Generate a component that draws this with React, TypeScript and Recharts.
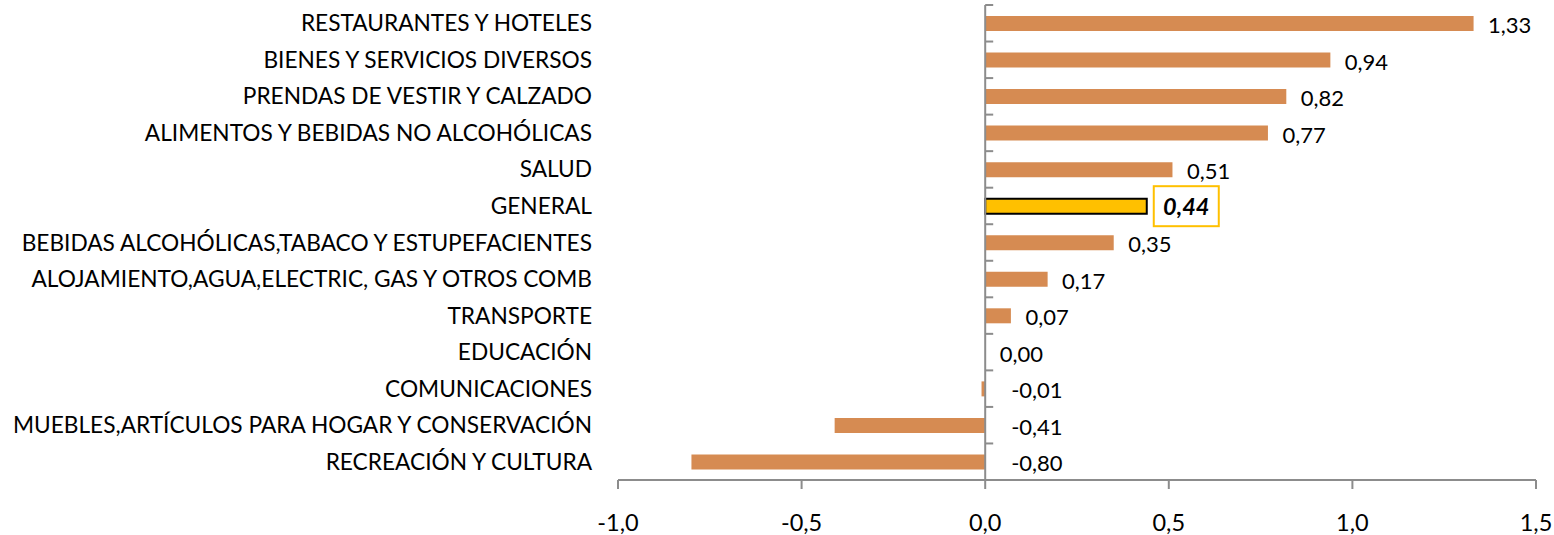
import { Bar, BarChart, Cell, LabelList, ReferenceLine, XAxis, YAxis } from "recharts";

const CATEGORIES = [
  "RESTAURANTES Y HOTELES",
  "BIENES Y SERVICIOS DIVERSOS",
  "PRENDAS DE VESTIR Y CALZADO",
  "ALIMENTOS Y BEBIDAS NO ALCOHÓLICAS",
  "SALUD",
  "GENERAL",
  "BEBIDAS ALCOHÓLICAS,TABACO Y ESTUPEFACIENTES",
  "ALOJAMIENTO,AGUA,ELECTRIC, GAS Y OTROS COMB",
  "TRANSPORTE",
  "EDUCACIÓN",
  "COMUNICACIONES",
  "MUEBLES,ARTÍCULOS PARA HOGAR Y CONSERVACIÓN",
  "RECREACIÓN Y CULTURA",
];
const VALUES = [1.33, 0.94, 0.82, 0.77, 0.51, 0.44, 0.35, 0.17, 0.07, 0.0, -0.01, -0.41, -0.8];
const X_TICKS = [-1, -0.5, 0, 0.5, 1, 1.5];
const HIGHLIGHT = "GENERAL";

const BAR = "#D68B52";
const GOLD = "#FFC000";
const AXIS = "#8C8C8C";
const FONT = "Lato, 'Open Sans', sans-serif";

const data = CATEGORIES.map((name, i) => ({ name, value: VALUES[i] }));

const fmt = (v: number, d: number) => v.toFixed(d).replace(".", ",");

function CategoryTick({ x, y, payload }: any) {
  return (
    <text x={x} y={y} dy={8} textAnchor="end" fontSize={22.7} fill="#000" fontFamily={FONT}>
      {payload.value}
    </text>
  );
}

function ValueTick({ x, y, payload }: any) {
  return (
    <text x={x} y={y} dy={24} textAnchor="middle" fontSize={23.5} fill="#000" fontFamily={FONT}>
      {fmt(payload.value, 1)}
    </text>
  );
}

// zero line with the category boundary ticks pointing right
function ZeroAxis(p: any) {
  const { x1, y1, x2, y2 } = p;
  const n = CATEGORIES.length;
  const top = Math.min(y1, y2);
  const h = Math.abs(y2 - y1);
  return (
    <g>
      <line x1={x1} y1={y1} x2={x2} y2={y2} stroke={AXIS} strokeWidth={2} />
      {Array.from({ length: n + 1 }, (_, k) => (
        <line
          key={k}
          x1={x1}
          x2={x1 + 8}
          y1={top + (h * k) / n}
          y2={top + (h * k) / n}
          stroke={AXIS}
          strokeWidth={2}
        />
      ))}
    </g>
  );
}

function ValueLabel({ x, y, width, height, value, index }: any) {
  const right = Math.max(x, x + width);
  const cy = y + height / 2;
  const text = fmt(value, 2);
  if (CATEGORIES[index] === HIGHLIGHT) {
    const bx = right + 7;
    return (
      <g>
        <rect x={bx} y={cy - 20} width={65} height={40} fill="none" stroke={GOLD} strokeWidth={2} />
        <text
          x={bx + 32.5}
          y={cy + 8.5}
          textAnchor="middle"
          fontSize={23.5}
          fontWeight="bold"
          fontStyle="italic"
          fill="#000"
          fontFamily={FONT}
        >
          {text}
        </text>
      </g>
    );
  }
  const lx = right + (value < 0 ? 26 : 14.5);
  return (
    <text x={lx} y={cy + 9.5} fontSize={22} fill="#000" fontFamily={FONT}>
      {text}
    </text>
  );
}

export default function App() {
  return (
    <div style={{ position: "absolute", left: 0, top: 0, width: 1554, height: 535, background: "#fff" }}>
      <BarChart
        width={1554}
        height={535}
        data={data}
        layout="vertical"
        margin={{ top: 5, right: 18, bottom: 0, left: 0 }}
      >
        <XAxis
          type="number"
          domain={[-1, 1.5]}
          ticks={X_TICKS}
          height={55}
          stroke={AXIS}
          strokeWidth={2}
          tickSize={9}
          tickMargin={18}
          tick={<ValueTick />}
          interval={0}
        />
        <YAxis
          type="category"
          dataKey="name"
          width={618}
          axisLine={false}
          tickLine={false}
          tickSize={0}
          tickMargin={26}
          tick={<CategoryTick />}
          interval={0}
        />
        <ReferenceLine x={0} shape={<ZeroAxis />} />
        <Bar
          dataKey="value"
          barSize={15}
          minPointSize={(v: number) => (v === 0 ? 0.01 : 0)}
          isAnimationActive={false}
        >
          {data.map((d) => (
            <Cell
              key={d.name}
              fill={d.name === HIGHLIGHT ? GOLD : BAR}
              stroke={d.name === HIGHLIGHT ? "#000" : "none"}
              strokeWidth={d.name === HIGHLIGHT ? 2 : 0}
            />
          ))}
          <LabelList dataKey="value" content={<ValueLabel />} />
        </Bar>
      </BarChart>
    </div>
  );
}
